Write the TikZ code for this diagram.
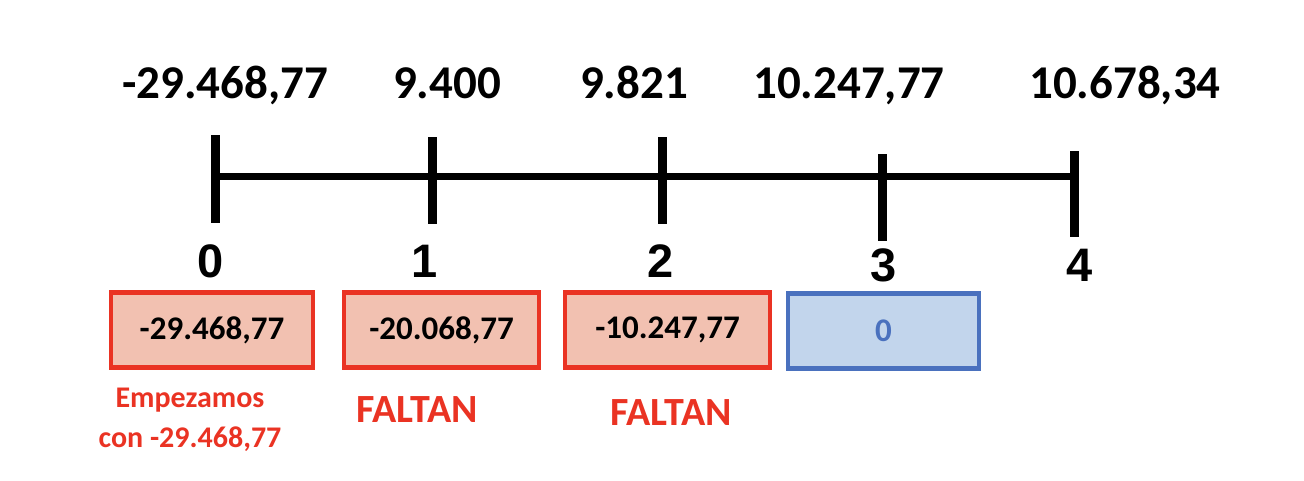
\documentclass[tikz,border=0pt]{standalone}
\usepackage{fontspec}
\setmainfont{Carlito}
\newfontfamily\arialfont{Liberation Sans}
\usetikzlibrary{calc}

\definecolor{lossred}{HTML}{EA3323}
\definecolor{lossfill}{HTML}{F2C1B1}
\definecolor{zeroblue}{HTML}{4A71BE}
\definecolor{zerofill}{HTML}{C2D5EC}

\tikzset{
  flowlabel/.style={anchor=base, inner sep=0pt, font=\bfseries\fontsize{47}{56}\selectfont},
  yearlabel/.style={anchor=base, inner sep=0pt, font=\arialfont\bfseries\fontsize{47}{56}\selectfont},
  balancebox/.style={line width=4.5pt, minimum height=75pt, inner sep=0pt,
    font=\bfseries\fontsize{33}{40}\selectfont},
  lossbox/.style={balancebox, draw=lossred, fill=lossfill},
  zerobox/.style={balancebox, draw=zeroblue, fill=zerofill, text=zeroblue},
  note/.style={anchor=base, inner sep=0pt, text=lossred, font=\bfseries\fontsize{40}{48}\selectfont}
}

\begin{document}
\begin{tikzpicture}[x=1pt, y=-1pt]

    % --- Canvas ---
    \useasboundingbox (0,0) rectangle (1304,480);

    % --- Adjustable parameters ---
    \def\axisY{176.5}   % height of the time line
    \def\boxY{330}      % centre of the balance boxes

    % --- Coordinates ---
    \coordinate (t0top) at (215.5,135);  \coordinate (t0bot) at (215.5,223);
    \coordinate (t1top) at (432.5,137);  \coordinate (t1bot) at (432.5,224);
    \coordinate (t2top) at (662.5,137);  \coordinate (t2bot) at (662.5,224);
    \coordinate (t3top) at (882.5,154);  \coordinate (t3bot) at (882.5,241);
    \coordinate (t4top) at (1074.5,151); \coordinate (t4bot) at (1074.5,237);
    \coordinate (axisL) at (215.5,\axisY);
    \coordinate (axisR) at (1074.5,\axisY);

    % --- Time line and ticks ---
    \draw[line width=7pt] (axisL) -- (axisR);
    \draw[line width=9pt] (t0top) -- (t0bot);
    \draw[line width=9pt] (t1top) -- (t1bot);
    \draw[line width=9pt] (t2top) -- (t2bot);
    \draw[line width=9pt] (t3top) -- (t3bot);
    \draw[line width=9pt] (t4top) -- (t4bot);

    % --- Cash flows (above) ---
    \node[flowlabel] (f0) at (225,98)  {-29.468,77};
    \node[flowlabel] (f1) at (447,98)  {9.400};
    \node[flowlabel] (f2) at (634,98)  {9.821};
    \node[flowlabel] (f3) at (849,98)  {10.247,77};
    \node[flowlabel] (f4) at (1125,98) {10.678,34};

    % --- Periods (below) ---
    \node[yearlabel] (y0) at (211,277) {0};
    \node[yearlabel] (y1) at (425,277) {1};
    \node[yearlabel] (y2) at (661,277) {2};
    \node[yearlabel] (y3) at (884,281) {3};
    \node[yearlabel] (y4) at (1080,281) {4};

    % --- Pending balance ---
    \node[lossbox, minimum width=202pt] (b0) at (212,\boxY)   {-29.468,77};
    \node[lossbox, minimum width=195pt] (b1) at (441.5,\boxY) {-20.068,77};
    \node[lossbox, minimum width=205pt] (b2) at (667.5,\boxY) {-10.247,77};
    \node[zerobox, minimum width=191pt] (b3) at (883.5,\boxY+1) {0};

    % --- Notes ---
    \node[note, align=center, font=\bfseries\fontsize{30}{40}\selectfont] (n0) at (190,447) {Empezamos\\con -29.468,77};
    \node[note] (n1) at (417,422) {FALTAN};
    \node[note] (n2) at (671,425) {FALTAN};

\end{tikzpicture}
\end{document}
